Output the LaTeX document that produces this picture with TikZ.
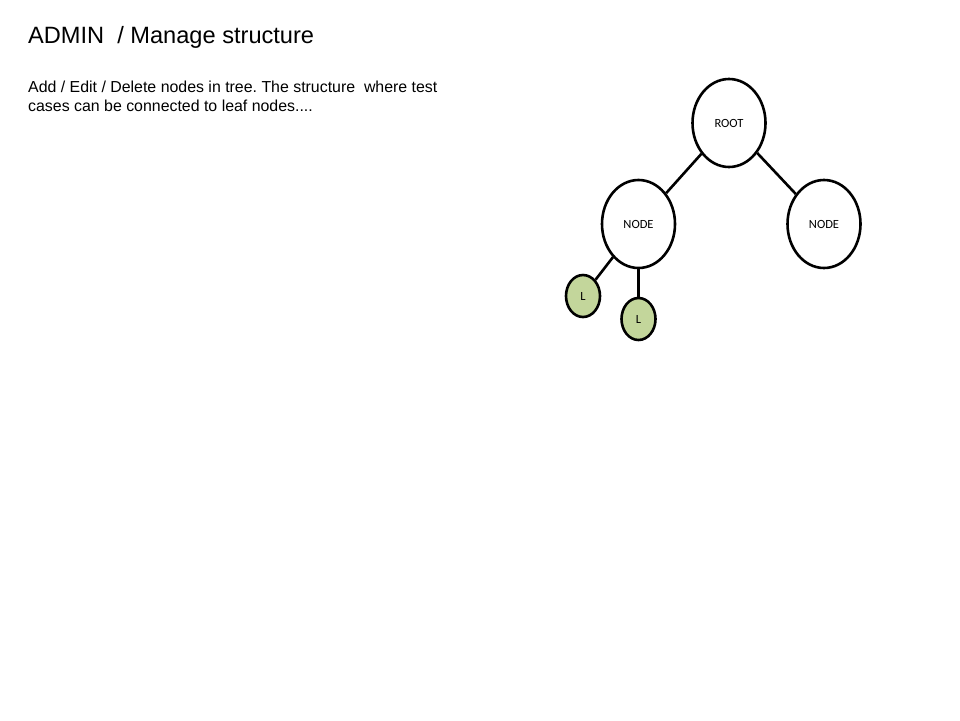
\documentclass[tikz,border=0pt]{standalone}
\usepackage{fontspec}
\setmainfont{Liberation Sans}
\newfontfamily\calib{Carlito}
\usetikzlibrary{shapes.geometric}
\definecolor{leafgreen}{RGB}{195,214,155}
\frenchspacing
\begin{document}
\begin{tikzpicture}[x=1pt,y=-1pt,
  treenode/.style={draw=black,line width=2.6pt,ellipse,inner sep=0pt,fill=white,font=\calib\fontsize{12.5}{14}\selectfont},
  bignode/.style={treenode,minimum width=73pt,minimum height=88pt},
  leafnode/.style={treenode,fill=leafgreen,minimum width=34pt,minimum height=42pt},
  edge/.style={line width=2.6pt}]
\useasboundingbox[fill=white] (0,0) rectangle (960,720);
\node[anchor=base west,inner sep=0pt,font=\fontsize{23.6}{27}\selectfont] (title) at (28,43) {ADMIN\ \ / Manage structure};
\node[anchor=base west,inner sep=0pt,align=left,font=\fontsize{15.9}{18.5}\selectfont] (desc) at (28,111) {Add / Edit / Delete nodes in tree. The structure\ \ where test\\cases can be connected to leaf nodes....};
\node[bignode] (root) at (729,123) {ROOT};
\node[bignode] (nl) at (638.5,224) {NODE};
\node[bignode] (nr) at (824,224) {NODE};
\node[leafnode] (l1) at (583,296) {L};
\node[leafnode] (l2) at (638.5,319) {L};
\draw[edge] (root) -- (nl);
\draw[edge] (root) -- (nr);
\draw[edge] (nl) -- (l1);
\draw[edge] (nl.south) -- (l2.north);
\end{tikzpicture}
\end{document}
